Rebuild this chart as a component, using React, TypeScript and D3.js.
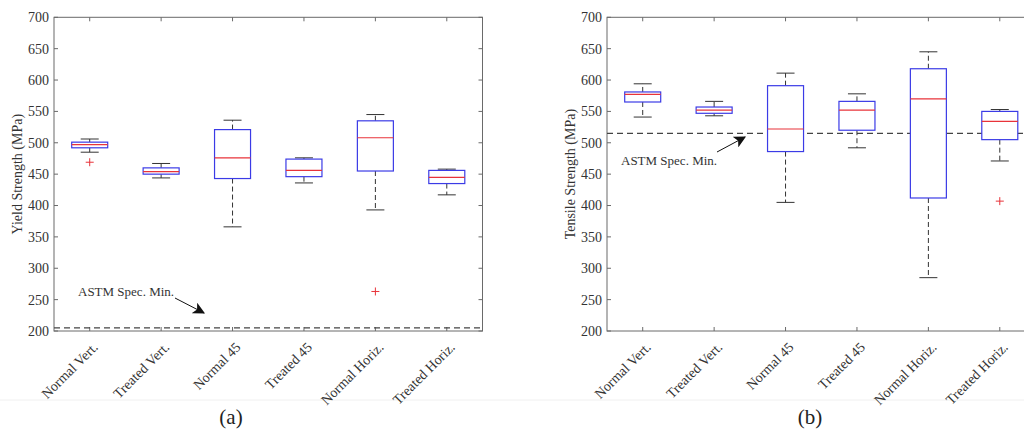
import React from "react";
import * as d3 from "d3";

// Specimen groups shared by both panels
const categories = [
  "Normal Vert.",
  "Treated Vert.",
  "Normal 45",
  "Treated 45",
  "Normal Horiz.",
  "Treated Horiz.",
];

// Yield strength (MPa) box statistics
const yieldLow = [485, 444, 366, 436, 393, 417];
const yieldQ1 = [492, 450, 443, 446, 455, 435];
const yieldMedian = [497, 454, 476, 456, 508, 445];
const yieldQ3 = [501, 460, 521, 474, 535, 456];
const yieldHigh = [506, 467, 536, 476, 545, 458];
const yieldOutliers = [[469], [], [], [], [263], []];
const yieldSpecMin = 205;

// Tensile strength (MPa) box statistics
const tensileLow = [541, 543, 405, 492, 285, 471];
const tensileQ1 = [565, 547, 486, 520, 412, 505];
const tensileMedian = [577, 552, 522, 552, 570, 534];
const tensileQ3 = [581, 557, 591, 566, 618, 550];
const tensileHigh = [594, 566, 611, 578, 645, 553];
const tensileOutliers = [[], [], [], [], [], [407]];
const tensileSpecMin = 515;

const yTicks = [200, 250, 300, 350, 400, 450, 500, 550, 600, 650, 700];

const FONT = "'Liberation Serif', 'Times New Roman', serif";
const TEXT = "#333";
const FRAME = "#6a6a6a";
const BOX = "#3b3be6";
const MEDIAN = "#e8333a";

type PanelProps = {
  left: number;
  right: number;
  top: number;
  bottom: number;
  yLabel: string;
  low: number[];
  q1: number[];
  median: number[];
  q3: number[];
  high: number[];
  outliers: number[][];
  specMin: number;
  note: { tx: number; ty: number; ax1: number; ay1: number; ax2: number; ay2: number };
  caption: string;
  captionX: number;
  markerId: string;
};

function Panel(p: PanelProps) {
  const x = d3.scaleLinear().domain([0.5, categories.length + 0.5]).range([p.left, p.right]);
  const y = d3.scaleLinear().domain([200, 700]).range([p.bottom, p.top]);
  const boxHalf = 18;
  const capHalf = 9;
  const tickLen = 4;

  return (
    <g>
      {/* frame */}
      <rect
        x={p.left}
        y={p.top}
        width={p.right - p.left}
        height={p.bottom - p.top}
        fill="none"
        stroke={FRAME}
        strokeWidth={1}
      />
      {/* y ticks + labels */}
      {yTicks.map((t) => (
        <g key={"y" + t}>
          <line x1={p.left} x2={p.left + tickLen} y1={y(t)} y2={y(t)} stroke={FRAME} />
          <line x1={p.right} x2={p.right - tickLen} y1={y(t)} y2={y(t)} stroke={FRAME} />
          <text
            x={p.left - 5}
            y={y(t)}
            dy="0.35em"
            textAnchor="end"
            fontFamily={FONT}
            fontSize={14}
            fill={TEXT}
          >
            {t}
          </text>
        </g>
      ))}
      {/* x ticks + rotated labels */}
      {categories.map((c, i) => (
        <g key={"x" + c}>
          <line x1={x(i + 1)} x2={x(i + 1)} y1={p.bottom} y2={p.bottom - tickLen} stroke={FRAME} />
          <line x1={x(i + 1)} x2={x(i + 1)} y1={p.top} y2={p.top + tickLen} stroke={FRAME} />
          <text
            transform={`translate(${x(i + 1) + 9},${p.bottom + 17}) rotate(-45)`}
            textAnchor="end"
            fontFamily={FONT}
            fontSize={14}
            fill={TEXT}
          >
            {c}
          </text>
        </g>
      ))}
      {/* y axis title */}
      <text
        transform={`translate(${p.left - 37},${(p.top + p.bottom) / 2}) rotate(-90)`}
        textAnchor="middle"
        dy="0.35em"
        fontFamily={FONT}
        fontSize={14}
        fill={TEXT}
      >
        {p.yLabel}
      </text>
      {/* specification minimum */}
      <line
        x1={p.left}
        x2={p.right}
        y1={y(p.specMin)}
        y2={y(p.specMin)}
        stroke="#444"
        strokeWidth={1.3}
        strokeDasharray="6,4"
      />
      {/* boxes */}
      {categories.map((c, i) => {
        const cx = x(i + 1);
        return (
          <g key={"b" + c}>
            <line x1={cx} x2={cx} y1={y(p.q3[i])} y2={y(p.high[i])} stroke="#333" strokeDasharray="5,3" />
            <line x1={cx} x2={cx} y1={y(p.q1[i])} y2={y(p.low[i])} stroke="#333" strokeDasharray="5,3" />
            <line x1={cx - capHalf} x2={cx + capHalf} y1={y(p.high[i])} y2={y(p.high[i])} stroke="#333" />
            <line x1={cx - capHalf} x2={cx + capHalf} y1={y(p.low[i])} y2={y(p.low[i])} stroke="#333" />
            <rect
              x={cx - boxHalf}
              y={y(p.q3[i])}
              width={boxHalf * 2}
              height={y(p.q1[i]) - y(p.q3[i])}
              fill="white"
              stroke={BOX}
              strokeWidth={1.2}
            />
            <line
              x1={cx - boxHalf}
              x2={cx + boxHalf}
              y1={y(p.median[i])}
              y2={y(p.median[i])}
              stroke={MEDIAN}
              strokeWidth={1.2}
            />
            {p.outliers[i].map((o, j) => (
              <g key={"o" + j} stroke={MEDIAN} strokeWidth={1}>
                <line x1={cx - 4} x2={cx + 4} y1={y(o)} y2={y(o)} />
                <line x1={cx} x2={cx} y1={y(o) - 4} y2={y(o) + 4} />
              </g>
            ))}
          </g>
        );
      })}
      {/* annotation */}
      <text x={p.note.tx} y={p.note.ty} fontFamily={FONT} fontSize={13} fill={TEXT}>
        ASTM Spec. Min.
      </text>
      <line
        x1={p.note.ax1}
        y1={p.note.ay1}
        x2={p.note.ax2}
        y2={p.note.ay2}
        stroke="#111"
        strokeWidth={1}
        markerEnd={`url(#${p.markerId})`}
      />
      {/* caption */}
      <text
        x={p.captionX}
        y={424}
        textAnchor="middle"
        fontFamily={FONT}
        fontSize={21}
        fill="#222"
      >
        {p.caption}
      </text>
    </g>
  );
}

export default function App() {
  const W = 1024;
  const H = 439;
  return (
    <svg
      width={W}
      height={H}
      style={{ position: "absolute", left: 0, top: 0, background: "white" }}
    >
      <defs>
        {["arrA", "arrB"].map((id) => (
          <marker
            key={id}
            id={id}
            viewBox="0 0 10 10"
            refX={9}
            refY={5}
            markerWidth={12}
            markerHeight={12}
            markerUnits="userSpaceOnUse"
            orient="auto"
          >
            <path d="M0,0 L10,5 L0,10 L2.5,5 Z" fill="#111" />
          </marker>
        ))}
      </defs>
      <rect x={0} y={0} width={W} height={H} fill="white" />
      <line x1={0} x2={W} y1={400} y2={400} stroke="#f0f0f0" strokeWidth={1} />
      <Panel
        left={54}
        right={482.5}
        top={17.3}
        bottom={331}
        yLabel="Yield Strength (MPa)"
        low={yieldLow}
        q1={yieldQ1}
        median={yieldMedian}
        q3={yieldQ3}
        high={yieldHigh}
        outliers={yieldOutliers}
        specMin={yieldSpecMin}
        note={{ tx: 78, ty: 296, ax1: 175, ay1: 298, ax2: 204, ay2: 313 }}
        caption="(a)"
        captionX={231}
        markerId="arrA"
      />
      <Panel
        left={607}
        right={1035.5}
        top={17.3}
        bottom={331}
        yLabel="Tensile Strength (MPa)"
        low={tensileLow}
        q1={tensileQ1}
        median={tensileMedian}
        q3={tensileQ3}
        high={tensileHigh}
        outliers={tensileOutliers}
        specMin={tensileSpecMin}
        note={{ tx: 621, ty: 165, ax1: 717, ay1: 152, ax2: 745, ay2: 137 }}
        caption="(b)"
        captionX={810}
        markerId="arrB"
      />
    </svg>
  );
}
